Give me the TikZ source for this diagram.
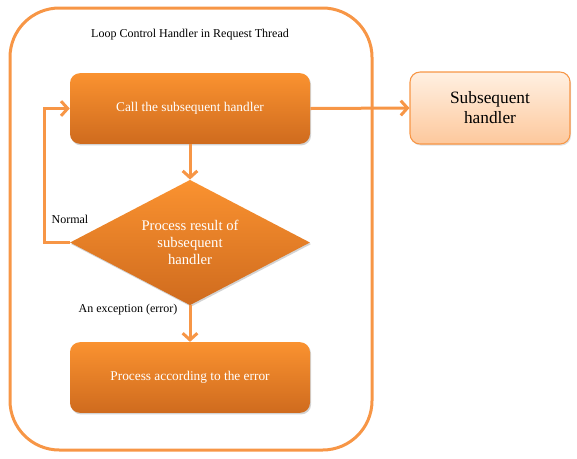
\documentclass[tikz,border=0pt]{standalone}
\usepackage{fontspec}
\setmainfont{Liberation Serif}
\usetikzlibrary{shapes.geometric,arrows.meta,shadows}

\definecolor{frameorange}{RGB}{247,150,70}
\definecolor{boxtop}{RGB}{250,146,48}
\definecolor{boxbottom}{RGB}{207,107,30}
\definecolor{subtop}{RGB}{255,240,226}
\definecolor{subbottom}{RGB}{253,200,156}

\tikzset{
  frame/.style={draw=frameorange, line width=2.25pt, rounded corners=37pt,
    minimum width=271.5pt, minimum height=331.5pt},
  stepbox/.style={rounded corners=7.5pt, top color=boxtop, bottom color=boxbottom,
    minimum width=180pt, minimum height=53pt, text=white, font=\fontsize{10}{12}\selectfont,
    drop shadow={shadow xshift=0.8pt, shadow yshift=-1.2pt, opacity=0.35}},
  subbox/.style={draw=frameorange, line width=0.8pt, rounded corners=7.5pt,
    top color=subtop, bottom color=subbottom, minimum width=120pt, minimum height=54pt,
    align=center, font=\fontsize{13}{15}\selectfont,
    drop shadow={shadow xshift=0.8pt, shadow yshift=-1.2pt, opacity=0.25}},
  decision/.style={diamond, aspect=1.92, inner sep=0pt, top color=boxtop, bottom color=boxbottom,
    minimum width=180pt, minimum height=94pt, text=white, align=center,
    font=\fontsize{11}{12.7}\selectfont,
    drop shadow={shadow xshift=0.8pt, shadow yshift=-1.2pt, opacity=0.35}},
  flow/.style={draw=frameorange, line width=2.25pt,
    -{Straight Barb[length=5pt,width=11pt]}},
  lbl/.style={font=\fontsize{9}{11}\selectfont, inner sep=0pt}
}

\begin{document}
\begin{tikzpicture}[x=0.75pt, y=-0.75pt]
  \useasboundingbox (0,0) rectangle (577,458);

  \node[frame] (loop) at (191,229) {};
  \node[lbl] (title) at (190,35) {Loop Control Handler in Request Thread};

  \node[stepbox] (call) at (190,108.5) {Call the subsequent handler};
  \node[subbox] (sub) at (490,108) {Subsequent\\handler};
  \node[decision] (result) at (190,242.5) {Process result of\\subsequent\\handler};
  \node[stepbox] (error) at (190,377.5) {Process according to the error};

  \draw[flow] (call.east) -- (sub.west);
  \draw[flow] (call.south) -- (result.north);
  \draw[flow] (result.west) -- ++(-25,0) |- (call.west);
  \draw[flow] (result.south) -- (error.north);

  \node[lbl] (normal) at (70,219) {Normal};
  \node[lbl] (exception) at (128,310) {An exception (error)};
\end{tikzpicture}
\end{document}
